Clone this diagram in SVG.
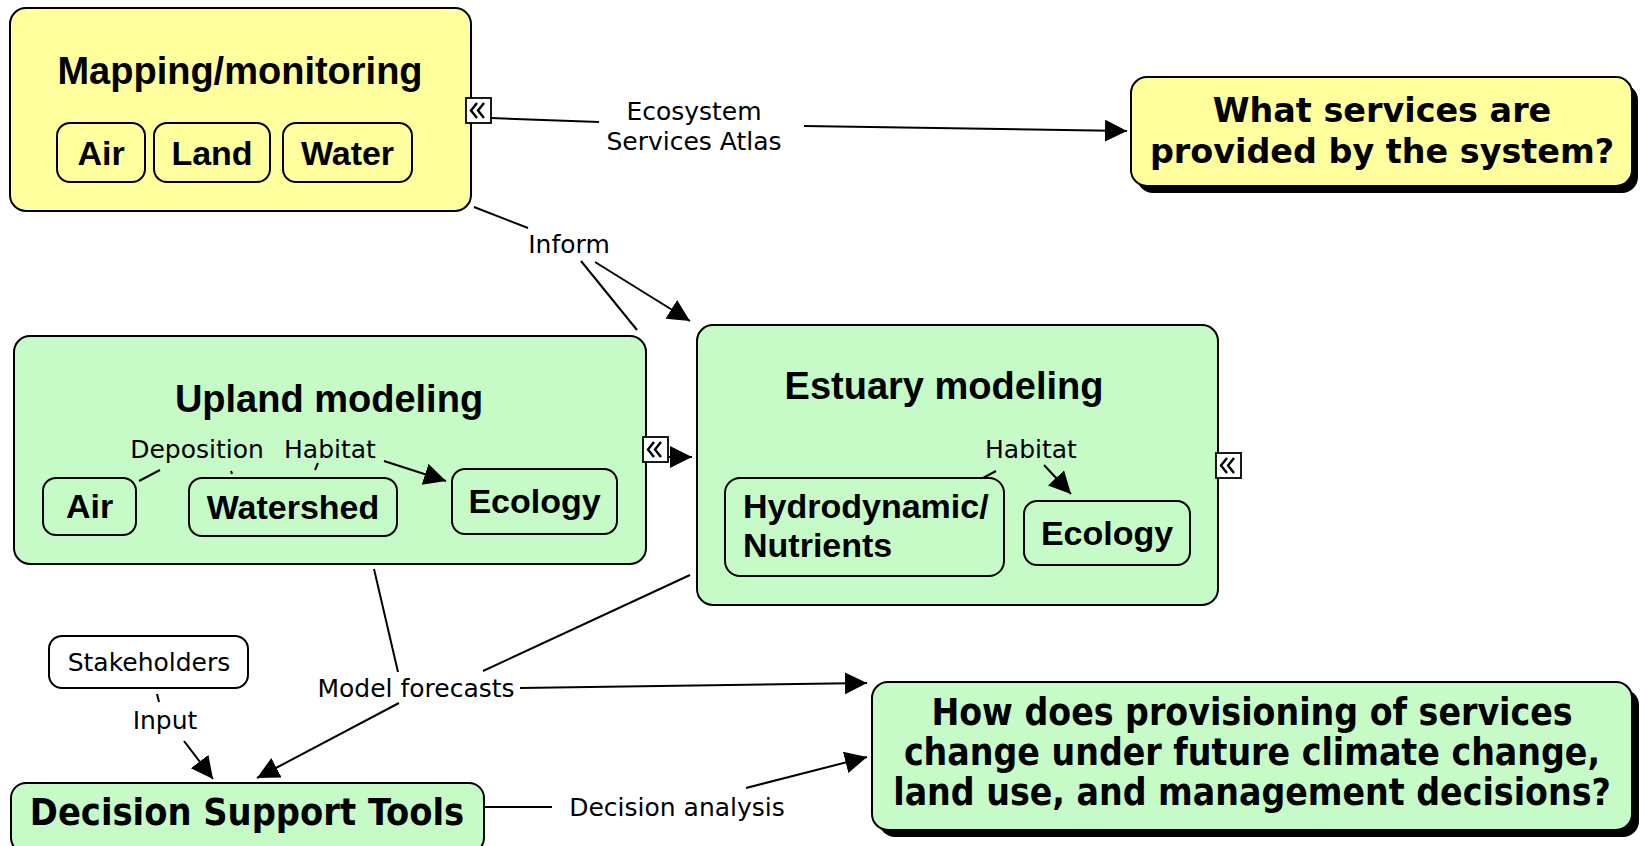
<svg xmlns="http://www.w3.org/2000/svg" width="1648" height="846" viewBox="0 0 1648 846">
<defs>
<marker id="arr" markerUnits="userSpaceOnUse" markerWidth="24" markerHeight="24" refX="22" refY="11" orient="auto">
<path d="M0,0 L22,11 L0,22 z" fill="#000"/>
</marker>
<g id="chev">
<rect x="0" y="0" width="25" height="25" fill="#fff" stroke="#000" stroke-width="1.8"/>
<path d="M11,5 L5,12.5 L11,20 M18,5 L12,12.5 L18,20" fill="none" stroke="#000" stroke-width="2.4"/>
</g>
</defs>
<style>
.yel{fill:#ffff9e;stroke:#000;stroke-width:2}
.grn{fill:#c6fac6;stroke:#000;stroke-width:2}
.wht{fill:#fff;stroke:#000;stroke-width:2}
.shd{fill:#000}
.t1{font-family:"Liberation Sans",Arial,sans-serif;font-weight:bold;font-size:38px;text-anchor:middle;fill:#000}
.t2{font-family:"Liberation Sans",Arial,sans-serif;font-weight:bold;font-size:34px;text-anchor:middle;fill:#000}
.q1{font-family:"DejaVu Sans",Verdana,sans-serif;font-weight:bold;font-size:33.4px;text-anchor:middle;fill:#000}
.q2{font-family:"DejaVu Sans Condensed","DejaVu Sans",sans-serif;font-stretch:condensed;font-weight:bold;font-size:37px;text-anchor:middle;fill:#000}
.lb{font-family:"DejaVu Sans",Verdana,sans-serif;font-size:25px;text-anchor:middle;fill:#000}
.ln{fill:none;stroke:#000;stroke-width:2}
</style>

<g id="mapping">
<rect class="yel" x="10" y="8" width="461" height="203" rx="16"/>
<text class="t1" x="240" y="84">Mapping/monitoring</text>
</g>
<g id="map-air"><rect class="yel" x="57" y="123" width="88" height="59" rx="13"/><text class="t2" x="101" y="165">Air</text></g>
<g id="map-land"><rect class="yel" x="154" y="123" width="116" height="59" rx="13"/><text class="t2" x="212" y="165">Land</text></g>
<g id="map-water"><rect class="yel" x="283" y="123" width="129" height="59" rx="13"/><text class="t2" x="347.5" y="165">Water</text></g>

<g id="q-services">
<rect class="shd" x="1137" y="84" width="501" height="109" rx="16"/>
<rect class="yel" x="1131" y="77" width="501" height="109" rx="16"/>
<text class="q1" x="1382" y="122">What services are</text>
<text class="q1" x="1382" y="163">provided by the system?</text>
</g>

<g id="upland">
<rect class="grn" x="14" y="336" width="632" height="228" rx="16"/>
<text class="t1" x="329" y="412">Upland modeling</text>
</g>
<g id="up-air"><rect class="grn" x="43" y="478" width="93" height="57" rx="13"/><text class="t2" x="89.5" y="518">Air</text></g>
<g id="up-watershed"><rect class="grn" x="189" y="478" width="208" height="58" rx="13"/><text class="t2" x="293" y="519">Watershed</text></g>
<g id="up-ecology"><rect class="grn" x="452" y="469" width="165" height="65" rx="13"/><text class="t2" x="534.5" y="513">Ecology</text></g>

<g id="estuary">
<rect class="grn" x="697" y="325" width="521" height="280" rx="16"/>
<text class="t1" x="944" y="399">Estuary modeling</text>
</g>
<g id="es-hydro"><rect class="grn" x="725" y="478" width="279" height="98" rx="15"/>
<text class="t2" x="743" y="518" style="text-anchor:start">Hydrodynamic/</text>
<text class="t2" x="743" y="557" style="text-anchor:start">Nutrients</text></g>
<g id="es-ecology"><rect class="grn" x="1024" y="501" width="166" height="64" rx="13"/><text class="t2" x="1107" y="545">Ecology</text></g>

<g id="stakeholders"><rect class="wht" x="49" y="636" width="199" height="52" rx="13"/><text class="lb" x="149" y="671">Stakeholders</text></g>

<g id="dst"><rect class="grn" x="11" y="783" width="473" height="70" rx="15"/><text class="q2" x="247" y="825" style="font-size:37.6px">Decision Support Tools</text></g>

<g id="q-future">
<rect class="shd" x="879" y="689" width="760" height="148" rx="16"/>
<rect class="grn" x="872" y="682" width="760" height="148" rx="16"/>
<text class="q2" x="1252" y="725">How does provisioning of services</text>
<text class="q2" x="1252" y="765">change under future climate change,</text>
<text class="q2" x="1252" y="805">land use, and management decisions?</text>
</g>

<g id="connectors">
<line class="ln" x1="491" y1="118" x2="599" y2="122"/>
<line class="ln" x1="804" y1="126" x2="1127" y2="131" marker-end="url(#arr)"/>
<line class="ln" x1="474" y1="207" x2="528" y2="228"/>
<line class="ln" x1="581" y1="261" x2="637" y2="330"/>
<line class="ln" x1="595" y1="262" x2="690" y2="321" marker-end="url(#arr)"/>
<line class="ln" x1="668" y1="457" x2="692" y2="457" marker-end="url(#arr)"/>
<line class="ln" x1="139" y1="481" x2="160" y2="470"/>
<line class="ln" x1="231" y1="471" x2="232" y2="474"/>
<line class="ln" x1="315" y1="470" x2="318" y2="463"/>
<line class="ln" x1="384" y1="461" x2="446" y2="481" marker-end="url(#arr)"/>
<line class="ln" x1="983" y1="478" x2="996" y2="471"/>
<line class="ln" x1="1044" y1="465" x2="1071" y2="494" marker-end="url(#arr)"/>
<line class="ln" x1="374" y1="569" x2="398" y2="672"/>
<line class="ln" x1="690" y1="575" x2="483" y2="671"/>
<line class="ln" x1="399" y1="703" x2="257" y2="778" marker-end="url(#arr)"/>
<line class="ln" x1="520" y1="688" x2="867" y2="683" marker-end="url(#arr)"/>
<line class="ln" x1="157" y1="694" x2="159" y2="702"/>
<line class="ln" x1="184" y1="741" x2="213" y2="779" marker-end="url(#arr)"/>
<line class="ln" x1="484" y1="807" x2="552" y2="807"/>
<line class="ln" x1="746" y1="788" x2="867" y2="757" marker-end="url(#arr)"/>
<use href="#chev" x="466" y="98"/>
<use href="#chev" x="643" y="437"/>
<use href="#chev" x="1216" y="453"/>
<text class="lb" x="694" y="120">Ecosystem</text>
<text class="lb" x="694" y="150">Services Atlas</text>
<text class="lb" x="569" y="253">Inform</text>
<text class="lb" x="197" y="458">Deposition</text>
<text class="lb" x="330" y="458">Habitat</text>
<text class="lb" x="1031" y="458">Habitat</text>
<text class="lb" x="416" y="697">Model forecasts</text>
<text class="lb" x="165" y="729">Input</text>
<text class="lb" x="677" y="816">Decision analysis</text>
</g>
</svg>
